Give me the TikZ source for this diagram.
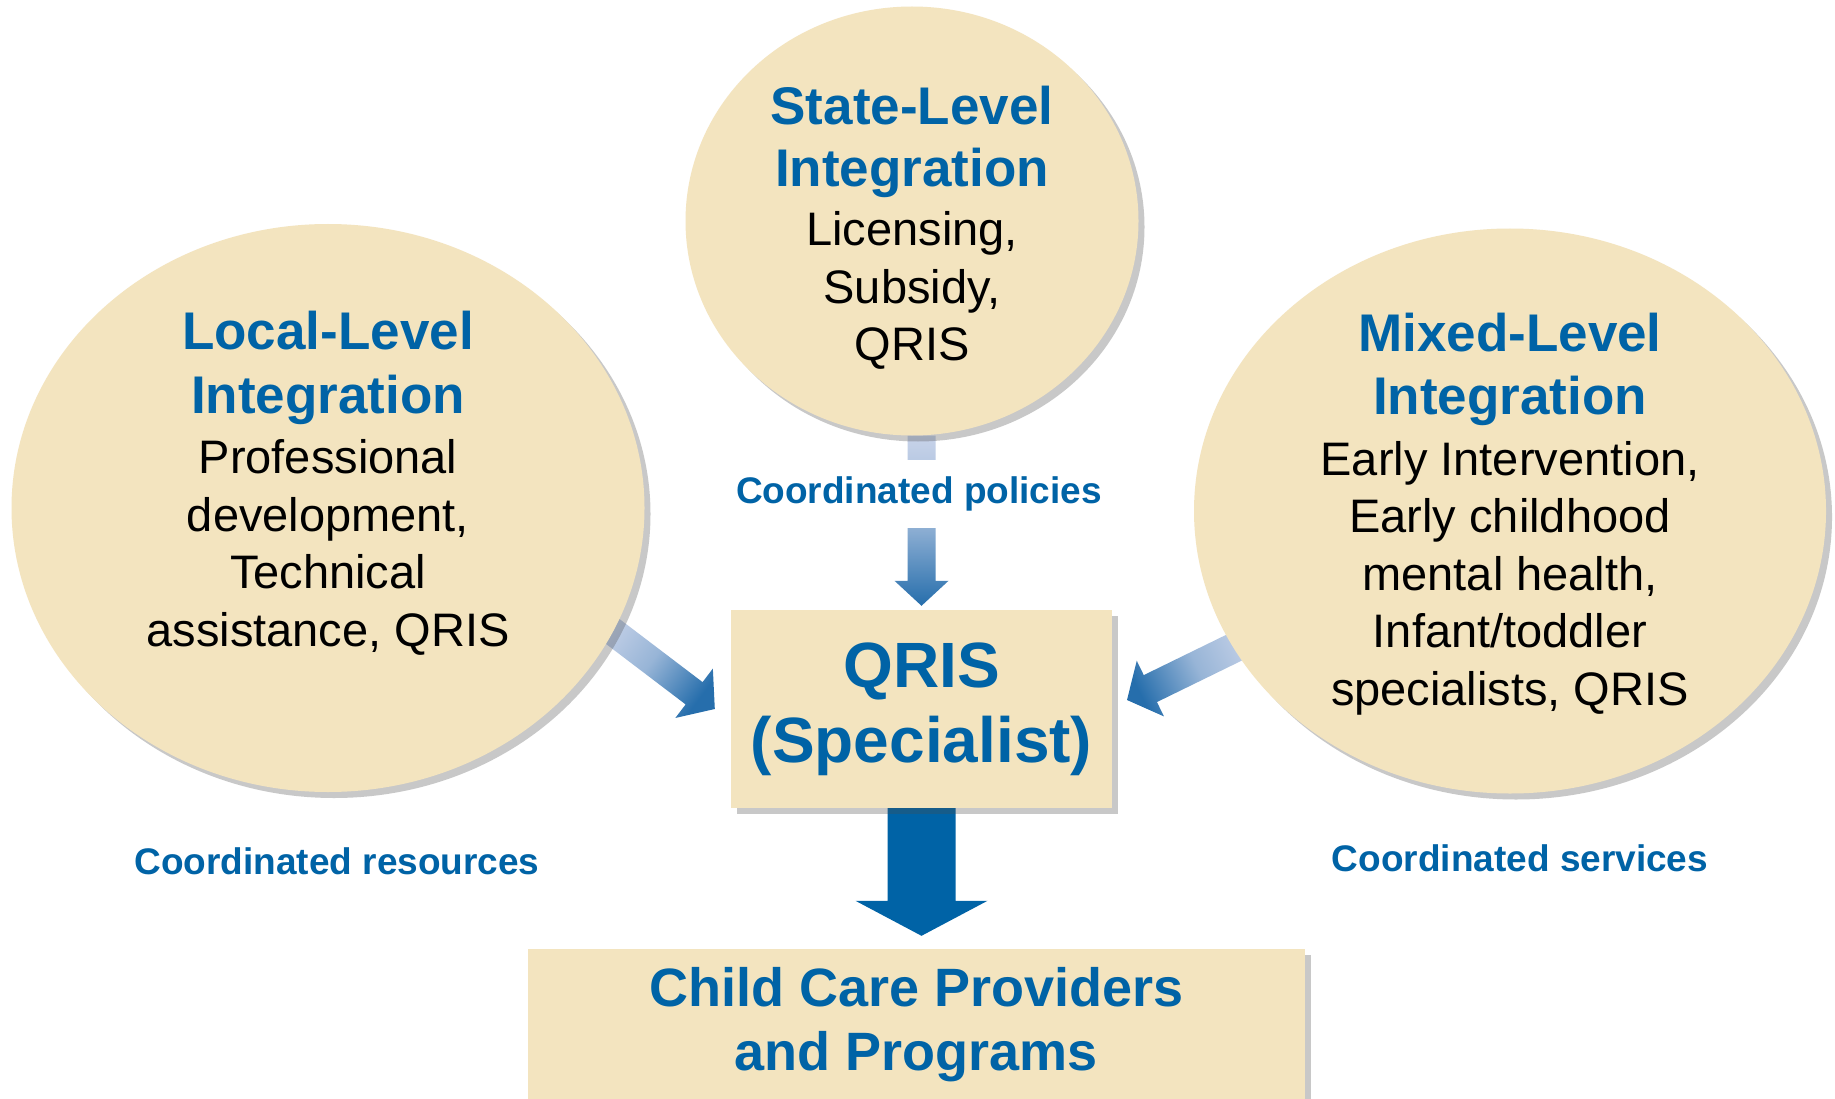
\documentclass[tikz,border=0pt]{standalone}
\usepackage{fontspec}
\setmainfont{Liberation Sans}
\usetikzlibrary{shapes.geometric,shadows,calc,backgrounds,positioning}
\definecolor{qblue}{RGB}{0,99,166}
\definecolor{beige}{RGB}{243,228,191}
\definecolor{arrowlight}{RGB}{200,211,233}
\definecolor{arrowdark}{RGB}{38,110,172}
\tikzset{
  softshadow/.style={drop shadow={shadow xshift=6pt, shadow yshift=-6pt, fill=black!70, opacity=0.3}},
  bubble/.style={ellipse, inner sep=0pt, fill=beige, softshadow},
  bubbletext/.style={align=center, font=\fontsize{47}{57.5}\selectfont},
  box/.style={rectangle, inner sep=0pt, fill=beige, softshadow, align=center, text=qblue},
  caption/.style={text=qblue, font=\fontsize{37}{44}\selectfont\bfseries},
  fadearrow/.style={top color=arrowlight, bottom color=arrowdark, middle color=arrowlight!70!arrowdark, shading angle=#1}
}
\newcommand{\hd}[1]{{\fontsize{53}{62}\selectfont\bfseries\color{qblue}#1}}
\newcommand{\blockarrow}[6][]{%
  \coordinate (hb) at ($(#3)!#6!(#2)$);
  \path[#1] ($(#2)!#4!90:(#3)$) -- ($(hb)!#4!90:(#3)$) -- ($(hb)!#5!90:(#3)$) -- (#3)
    -- ($(hb)!#5!-90:(#3)$) -- ($(hb)!#4!-90:(#3)$) -- ($(#2)!#4!-90:(#3)$) -- cycle;}
\begin{document}
\begin{tikzpicture}[x=1pt, y=-1pt]
  \useasboundingbox (0,0) rectangle (1835,1099);
  \node[bubble, minimum width=453, minimum height=429] (state) at (912,221) {};
  \node[bubble, minimum width=633, minimum height=568] (local) at (328,508) {};
  \node[bubble, minimum width=632, minimum height=565] (mixed) at (1510,511) {};
  \node[bubbletext] (statetext) at ([yshift=-7pt]state.center)
    {\hd{State-Level}\\[4pt]\hd{Integration}\\[2pt]Licensing,\\Subsidy,\\QRIS};
  \node[bubbletext] (localtext) at ([yshift=25pt]local.center)
    {\hd{Local-Level}\\[6pt]\hd{Integration}\\[3pt]Professional\\development,\\Technical\\assistance, QRIS};
  \node[bubbletext] (mixedtext) at ([yshift=-3pt]mixed.center)
    {\hd{Mixed-Level}\\[6pt]\hd{Integration}\\[3pt]Early Intervention,\\Early childhood\\mental health,\\Infant/toddler\\specialists, QRIS};
  \node[box, minimum width=381, minimum height=198, font=\fontsize{64}{75}\selectfont\bfseries] (qris) at (921.5,709) {QRIS\\(Specialist)};
  \node[box, minimum width=777, minimum height=151, font=\fontsize{54}{64}\selectfont\bfseries] (prog) at (916.5,1024.5) {Child Care Providers\\and Programs};
  \coordinate (lstart) at (595,618);
  \coordinate (ltip) at ([xshift=-16pt]qris.west);
  \coordinate (mstart) at (1262,634);
  \coordinate (mtip) at (1127,700);
  \coordinate (sstart) at (qris.north |- state.south);
  \coordinate (stip) at ([yshift=4pt]qris.north);
  \coordinate (ptip) at ([yshift=13pt]qris.south |- prog.north);
  \begin{scope}[on background layer]
    \fill[white] (0,0) rectangle (1835,1099);
    \blockarrow[fadearrow=0]{sstart}{stip}{14pt}{27pt}{25pt}
    \blockarrow[fadearrow=53]{lstart}{ltip}{14pt}{31pt}{26pt}
    \blockarrow[fadearrow=296]{mstart}{mtip}{15pt}{31pt}{26pt}
    \blockarrow[fill=qblue]{qris.south}{ptip}{34pt}{66pt}{35pt}
  \end{scope}
  \node[caption, fill=white, minimum height=68] (policies) at (919,494) {Coordinated policies};
  \node[caption] (resources) at (337,861) {Coordinated resources};
  \node[caption] (services) at (1520,858) {Coordinated services};
\end{tikzpicture}
\end{document}
